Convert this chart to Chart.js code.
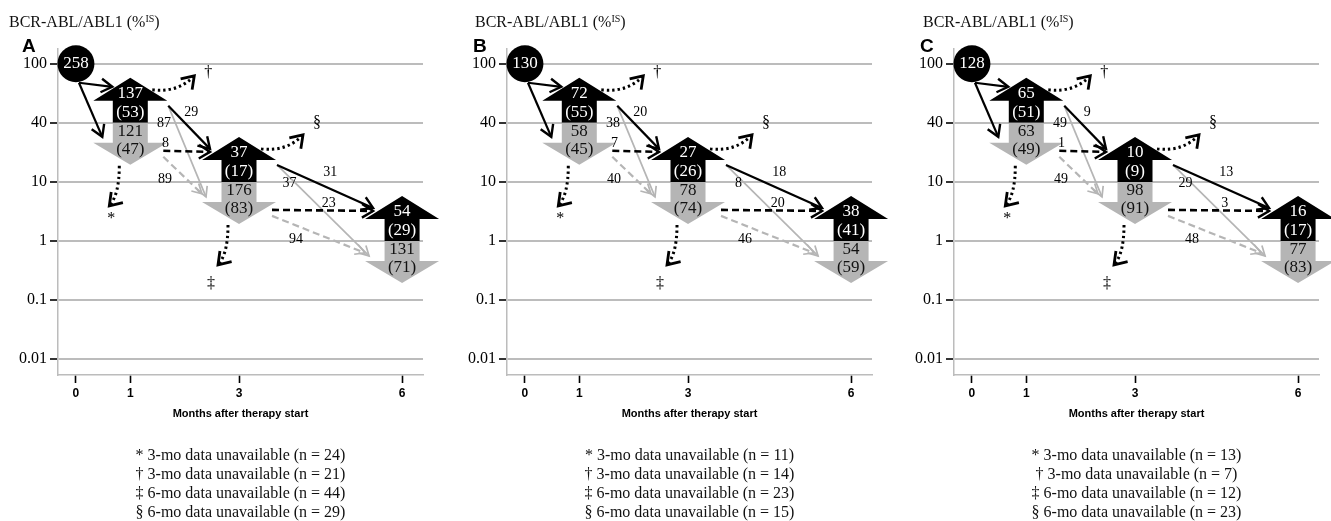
<!DOCTYPE html>
<html><head><meta charset="utf-8">
<script src="https://cdn.jsdelivr.net/npm/chart.js@4.4.1/dist/chart.umd.min.js"></script>
<style>
html,body{margin:0;padding:0;background:#fff;}
body{width:1331px;height:521px;overflow:hidden;position:relative;font-family:'Liberation Serif','Times New Roman',serif;color:#111;}
.panel{position:absolute;top:0;width:445px;height:521px;}
.panel canvas{position:absolute;left:0;top:0;}
.ytitle{position:absolute;top:13px;font-size:16px;line-height:18px;white-space:nowrap;}
.ytitle sup{font-size:10px;line-height:0;vertical-align:5px;}
.letter{position:absolute;top:36px;font:bold 19px/20px 'Liberation Sans',Arial,sans-serif;color:#000;}
.notes{position:absolute;top:445px;left:58px;width:365px;text-align:center;font-size:16px;line-height:19px;white-space:nowrap;}
</style>
</head><body>
<script>
// ---------- data ----------
const panelLetters = ['A', 'B', 'C'];
const yTickLabels = ['0.01', '0.1', '1', '10', '40', '100'];
const xTickMonths = [0, 1, 3, 6];
const xTitle = 'Months after therapy start';
const yTitle = 'BCR-ABL/ABL1 (%';
const nodeMonths = [0, 1, 3, 6];
const nodeLevels = ['100', '40', '10', '1'];
const baselineN = [258, 130, 128];
const upN     = [[137, 37, 54], [72, 27, 38], [65, 10, 16]];
const upPct   = [[53, 17, 29], [55, 26, 41], [51, 9, 17]];
const downN   = [[121, 176, 131], [58, 78, 54], [63, 98, 77]];
const downPct = [[47, 83, 71], [45, 74, 59], [49, 91, 83]];
// transitions: [up->up, up->down, down->up, down->down]
const flows1to3 = [[29, 87, 8, 89], [20, 38, 7, 40], [9, 49, 1, 49]];
const flows3to6 = [[31, 37, 23, 94], [18, 8, 20, 46], [13, 29, 3, 48]];
const missStar    = [24, 11, 13]; // * 3-mo unavailable
const missDagger  = [21, 14, 7];  // † 3-mo unavailable
const missDDagger = [44, 23, 12]; // ‡ 6-mo unavailable
const missSection = [29, 15, 23]; // § 6-mo unavailable

// ---------- styles / layout ----------
const panelLeft = [0, 449, 896];
const titleLeft = [9, 26, 27];
const letterLeft = [22, 24, 24];
const GRAY = '#b5b5b5';
const GRID = '#bcbcbc';
const SERIF = "'Liberation Serif','Times New Roman',serif";
const NARROW = "'Liberation Sans Narrow','Arial Narrow','Liberation Sans',sans-serif";
const HW = 37, SW = 17.5, UP_LEN = 45, HEAD = 23, DN_SHAFT = 20, DN_LEN = 42;

function head(ctx, x1, y1, x2, y2, len, ang, color, w) {
  const a = Math.atan2(y2 - y1, x2 - x1);
  ctx.save(); ctx.setLineDash([]); ctx.strokeStyle = color; ctx.lineWidth = w;
  ctx.lineJoin = 'miter'; ctx.lineCap = 'butt';
  ctx.beginPath();
  ctx.moveTo(x2 - len * Math.cos(a - ang), y2 - len * Math.sin(a - ang));
  ctx.lineTo(x2, y2);
  ctx.lineTo(x2 - len * Math.cos(a + ang), y2 - len * Math.sin(a + ang));
  ctx.stroke(); ctx.restore();
}
function arrow(ctx, x1, y1, x2, y2, o) {
  ctx.save(); ctx.strokeStyle = o.color; ctx.lineWidth = o.w; ctx.setLineDash(o.dash || []);
  ctx.lineCap = 'butt';
  ctx.beginPath(); ctx.moveTo(x1, y1); ctx.lineTo(x2, y2); ctx.stroke(); ctx.restore();
  head(ctx, x1, y1, x2, y2, o.hl, o.ha, o.color, o.hw || o.w);
}
function dotted(ctx, x1, y1, cx, cy, x2, y2) {
  ctx.save(); ctx.strokeStyle = '#000'; ctx.lineWidth = 3; ctx.setLineDash([2.4, 3]);
  ctx.beginPath(); ctx.moveTo(x1, y1); ctx.quadraticCurveTo(cx, cy, x2, y2); ctx.stroke(); ctx.restore();
  head(ctx, cx, cy, x2, y2, 14, 0.6, '#000', 2.8);
}
function txt(ctx, s, x, y, size, color) {
  ctx.fillStyle = color; ctx.font = size + 'px ' + SERIF;
  ctx.textAlign = 'center'; ctx.textBaseline = 'middle';
  ctx.fillText(s, x, y);
}
function drawPair(ctx, n) {
  const { cx, by } = n;
  ctx.fillStyle = '#000';
  ctx.beginPath();
  ctx.moveTo(cx, by - UP_LEN);
  ctx.lineTo(cx + HW, by - UP_LEN + HEAD); ctx.lineTo(cx + SW, by - UP_LEN + HEAD);
  ctx.lineTo(cx + SW, by); ctx.lineTo(cx - SW, by);
  ctx.lineTo(cx - SW, by - UP_LEN + HEAD); ctx.lineTo(cx - HW, by - UP_LEN + HEAD);
  ctx.closePath(); ctx.fill();
  ctx.fillStyle = GRAY;
  ctx.beginPath();
  ctx.moveTo(cx - SW, by); ctx.lineTo(cx + SW, by);
  ctx.lineTo(cx + SW, by + DN_SHAFT); ctx.lineTo(cx + HW, by + DN_SHAFT);
  ctx.lineTo(cx, by + DN_LEN); ctx.lineTo(cx - HW, by + DN_SHAFT);
  ctx.lineTo(cx - SW, by + DN_SHAFT);
  ctx.closePath(); ctx.fill();
}

function flowPlugin(p) {
  return {
    id: 'flow' + p,
    afterDatasetsDraw(chart) {
      const ctx = chart.ctx, xs = chart.scales.x, ys = chart.scales.y;
      const nodes = nodeMonths.map((m, i) => ({
        cx: xs.getPixelForValue(m),
        by: ys.getPixelForValue(yTickLabels.indexOf(nodeLevels[i]))
      }));
      ctx.save();
      for (let k = 1; k < 4; k++) drawPair(ctx, nodes[k]);

      const black = { color: '#000', w: 2.2, hl: 13, ha: 0.55, hw: 2.4 };
      const blackDash = { color: '#000', w: 2.6, dash: [7, 4], hl: 13, ha: 0.55, hw: 2.4 };
      const gray = { color: GRAY, w: 1.7, hl: 11, ha: 0.5 };
      const grayDash = { color: GRAY, w: 2.2, dash: [7, 4], hl: 11, ha: 0.5, hw: 1.7 };

      // baseline -> month 1
      const c = nodes[0], n1 = nodes[1];
      arrow(ctx, c.cx + 3, c.by + 19, n1.cx - 18, n1.by - 36, black);
      arrow(ctx, c.cx + 3, c.by + 19, n1.cx - 28, n1.by + 14, black);

      // stage transitions
      const stages = [flows1to3[p], flows3to6[p]];
      const tDownUp = [0.325, 0.55], tDownDown = [0.32, 0.35];
      stages.forEach((f, s) => {
        const a = nodes[s + 1], b = nodes[s + 2];
        const dx = b.cx - a.cx;
        arrow(ctx, a.cx + 38, a.by - 17, b.cx - 33, b.by + 15, gray);
        arrow(ctx, a.cx + 33, a.by + 34, b.cx - 37, b.by + 12, grayDash);
        arrow(ctx, a.cx + 38, a.by - 17, b.cx - 29, b.by - 33, black);
        arrow(ctx, a.cx + 33, a.by + 28, b.cx - 29, b.by - 30, blackDash);
        txt(ctx, String(f[0]), a.cx + 0.56 * dx, a.by - 10, 14, '#000');
        txt(ctx, String(f[1]), a.cx + 0.31 * dx, a.by + 1, 14, '#000');
        txt(ctx, String(f[2]), a.cx + tDownUp[s] * dx, a.by + 21, 14, '#000');
        txt(ctx, String(f[3]), a.cx + tDownDown[s] * dx, a.by + 57, 14, '#000');
      });

      // unavailable (dotted) arrows
      [[nodes[1], '\u2020', '*'], [nodes[2], '\u00a7', '\u2021']].forEach(([n, upSym, dnSym], i) => {
        dotted(ctx, n.cx + 22, n.by - 33, n.cx + 48, n.by - 30, n.cx + 64, n.by - 47);
        txt(ctx, upSym, n.cx + 78, n.by - (i === 0 ? 50 : 59), 16, '#000');
        dotted(ctx, n.cx - 11, n.by + 43, n.cx - 11, n.by + 72, n.cx - 21, n.by + 83);
        txt(ctx, dnSym, n.cx - (i === 0 ? 19 : 28), n.by + (i === 0 ? 96 : 102), 16, '#000');
      });

      // node texts
      txt(ctx, String(baselineN[p]), c.cx, c.by, 17, '#fff');
      for (let k = 1; k < 4; k++) {
        const n = nodes[k];
        txt(ctx, String(upN[p][k - 1]), n.cx, n.by - 29, 17, '#fff');
        txt(ctx, '(' + upPct[p][k - 1] + ')', n.cx, n.by - 10, 17, '#fff');
        txt(ctx, String(downN[p][k - 1]), n.cx, n.by + 9, 17, '#111');
        txt(ctx, '(' + downPct[p][k - 1] + ')', n.cx, n.by + 27, 17, '#111');
      }
      ctx.restore();
    }
  };
}

panelLetters.forEach((letter, p) => {
  const div = document.createElement('div');
  div.className = 'panel';
  div.style.left = panelLeft[p] + 'px';
  div.innerHTML =
    '<canvas width="445" height="521"></canvas>' +
    '<div class="ytitle" style="left:' + titleLeft[p] + 'px">' + yTitle + '<sup>IS</sup>)</div>' +
    '<div class="letter" style="left:' + letterLeft[p] + 'px">' + letter + '</div>' +
    '<div class="notes">' +
      '* 3-mo data unavailable (n = ' + missStar[p] + ')<br>' +
      '\u2020 3-mo data unavailable (n = ' + missDagger[p] + ')<br>' +
      '\u2021 6-mo data unavailable (n = ' + missDDagger[p] + ')<br>' +
      '\u00a7 6-mo data unavailable (n = ' + missSection[p] + ')</div>';
  document.body.appendChild(div);
  const canvas = div.querySelector('canvas');
  new Chart(canvas.getContext('2d'), {
    type: 'scatter',
    data: {
      datasets: [{
        data: [{ x: nodeMonths[0], y: yTickLabels.indexOf(nodeLevels[0]) }],
        pointRadius: 18.5, pointHoverRadius: 18.5,
        backgroundColor: '#000', borderColor: '#000', borderWidth: 0,
        clip: false
      }]
    },
    options: {
      responsive: false, animation: false, devicePixelRatio: 1, events: [],
      layout: { padding: { left: 0, right: 22, top: 49, bottom: 96 } },
      plugins: { legend: { display: false }, tooltip: { enabled: false } },
      scales: {
        x: {
          type: 'linear', min: -0.33, max: 6.385,
          afterBuildTicks: s => { s.ticks = xTickMonths.map(v => ({ value: v })); },
          afterFit: s => { s.height = 50; },
          grid: { drawOnChartArea: false, drawTicks: true, tickLength: 8, tickColor: '#000', tickWidth: 1.6 },
          border: { display: true, color: GRID, width: 1.5 },
          ticks: { padding: 3, color: '#000', autoSkip: false, maxRotation: 0,
                   font: { family: NARROW, weight: 'bold', size: 12 }, callback: v => String(v) },
          title: { display: true, text: xTitle, color: '#000',
                   font: { family: NARROW, weight: 'bold', size: 11 }, padding: { top: 0, bottom: 4 } }
        },
        y: {
          type: 'linear', min: -0.27, max: 5.25,
          afterBuildTicks: s => { s.ticks = yTickLabels.map((_, i) => ({ value: i })); },
          afterFit: s => { s.width = 58; },
          grid: { color: GRID, lineWidth: 2, drawTicks: true, tickLength: 8, tickColor: '#000', tickWidth: 1.6 },
          border: { display: true, color: GRID, width: 1.5 },
          ticks: { padding: 3, color: '#000', autoSkip: false,
                   font: { family: SERIF, size: 16 }, callback: v => yTickLabels[v] }
        }
      }
    },
    plugins: [flowPlugin(p)]
  });
});
</script>
</body></html>
